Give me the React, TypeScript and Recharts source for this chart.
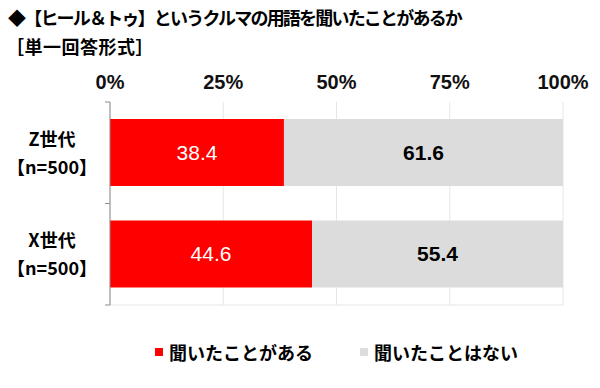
import React from "react";
import {
  BarChart,
  Bar,
  XAxis,
  YAxis,
  CartesianGrid,
  ReferenceLine,
  Legend,
  LabelList,
} from "recharts";

// category labels (two lines each)
const groups = ["Z世代", "X世代"];
const sampleSizes = ["【n=500】", "【n=500】"];
// series values (%)
const heard = [38.4, 44.6];
const notHeard = [61.6, 55.4];
const seriesNames = ["聞いたことがある", "聞いたことはない"];
const xTicks = [0, 25, 50, 75, 100];
const edgeTicks = [0, 1, 2];

const RED = "#FF0000";
const GRAY = "#DCDCDC";
const JP = "'Noto Sans CJK JP', 'Noto Sans', sans-serif";
const NUM = "'Liberation Sans', Arial, sans-serif";

const data = groups.map((g, i) => ({
  group: g,
  n: sampleSizes[i],
  heard: heard[i],
  notHeard: notHeard[i],
}));

function GroupTick(props: any) {
  const { x, y, payload, index } = props;
  const cx = x - 44;
  return (
    <g>
      <text x={cx} y={y - 7} textAnchor="middle" fontFamily={JP} fontWeight={700} fontSize={18} fill="#000">
        {payload.value}
      </text>
      <text x={cx} y={y + 21} textAnchor="middle" fontFamily={JP} fontWeight={700} fontSize={18} fill="#000">
        {sampleSizes[index]}
      </text>
    </g>
  );
}

function LegendBox(props: any) {
  const items = props.payload || [];
  return (
    <div style={{ display: "flex", height: 24, alignItems: "center", paddingLeft: 155, whiteSpace: "nowrap" }}>
      {items.map((it: any, i: number) => (
        <div key={i} style={{ display: "flex", alignItems: "center", marginRight: 47, flexShrink: 0 }}>
          <span style={{ width: 8, height: 8, background: it.color, display: "inline-block", marginRight: 6 }} />
          <span style={{ fontFamily: JP, fontWeight: 700, fontSize: 18, color: "#000", lineHeight: "24px" }}>
            {it.value}
          </span>
        </div>
      ))}
    </div>
  );
}

export default function App() {
  return (
    <div style={{ position: "absolute", left: 0, top: 0, width: 600, height: 388, background: "#fff" }}>
      <div
        style={{
          position: "absolute",
          left: 8,
          top: 8,
          fontFamily: JP,
          fontWeight: 700,
          fontSize: 18,
          lineHeight: "18px",
          letterSpacing: -1.8,
          whiteSpace: "nowrap",
          color: "#000",
        }}
      >
        ◆【ヒール＆トゥ】というクルマの用語を聞いたことがあるか
      </div>
      <div
        style={{
          position: "absolute",
          left: 6,
          top: 37,
          fontFamily: JP,
          fontWeight: 700,
          fontSize: 18,
          lineHeight: "18px",
          letterSpacing: 0.5,
          whiteSpace: "nowrap",
          color: "#000",
        }}
      >
        ［単一回答形式］
      </div>
      <BarChart
        width={600}
        height={388}
        data={data}
        layout="vertical"
        margin={{ top: 72, right: 37, bottom: 59, left: 0 }}
        style={{ position: "absolute", left: 0, top: 0 }}
      >
        <CartesianGrid horizontal={false} stroke="#E6E6E6" yAxisId="cat" />
        <XAxis
          type="number"
          orientation="top"
          domain={[0, 100]}
          ticks={xTicks}
          tickFormatter={(v) => `${v}%`}
          axisLine={false}
          tickLine={false}
          tickSize={0}
          tickMargin={13}
          height={30}
          interval={0}
          tick={{ fontFamily: NUM, fontWeight: 700, fontSize: 20, fill: "#111" }}
        />
        <YAxis
          yAxisId="aedge"
          type="number"
          dataKey="heard"
          domain={[0, 2]}
          ticks={edgeTicks}
          allowDataOverflow
          width={6}
          interval={0}
          tickFormatter={() => ""}
          tickSize={5}
          tickMargin={0}
          axisLine={{ stroke: "#8C8C8C" }}
          tickLine={{ stroke: "#8C8C8C" }}
        />
        <YAxis
          yAxisId="cat"
          type="category"
          dataKey="group"
          width={104}
          axisLine={false}
          tickLine={false}
          tick={<GroupTick />}
        />
        <ReferenceLine yAxisId="aedge" y={2} stroke="#E6E6E6" />
        <Legend
          content={<LegendBox />}
          verticalAlign="bottom"
          wrapperStyle={{ top: 340, bottom: "auto" }}
        />
        <Bar
          yAxisId="cat"
          dataKey="heard"
          name={seriesNames[0]}
          stackId="a"
          fill={RED}
          barSize={67}
          isAnimationActive={false}
        >
          <LabelList
            dataKey="heard"
            position="center"
            formatter={(v: any) => Number(v).toFixed(1)}
            fill="#fff"
            fontFamily={NUM}
            fontSize={21}
          />
        </Bar>
        <Bar
          yAxisId="cat"
          dataKey="notHeard"
          name={seriesNames[1]}
          stackId="a"
          fill={GRAY}
          barSize={67}
          isAnimationActive={false}
        >
          <LabelList
            dataKey="notHeard"
            position="center"
            formatter={(v: any) => Number(v).toFixed(1)}
            fill="#000"
            fontWeight={700}
            fontFamily={NUM}
            fontSize={21}
          />
        </Bar>
      </BarChart>
    </div>
  );
}
